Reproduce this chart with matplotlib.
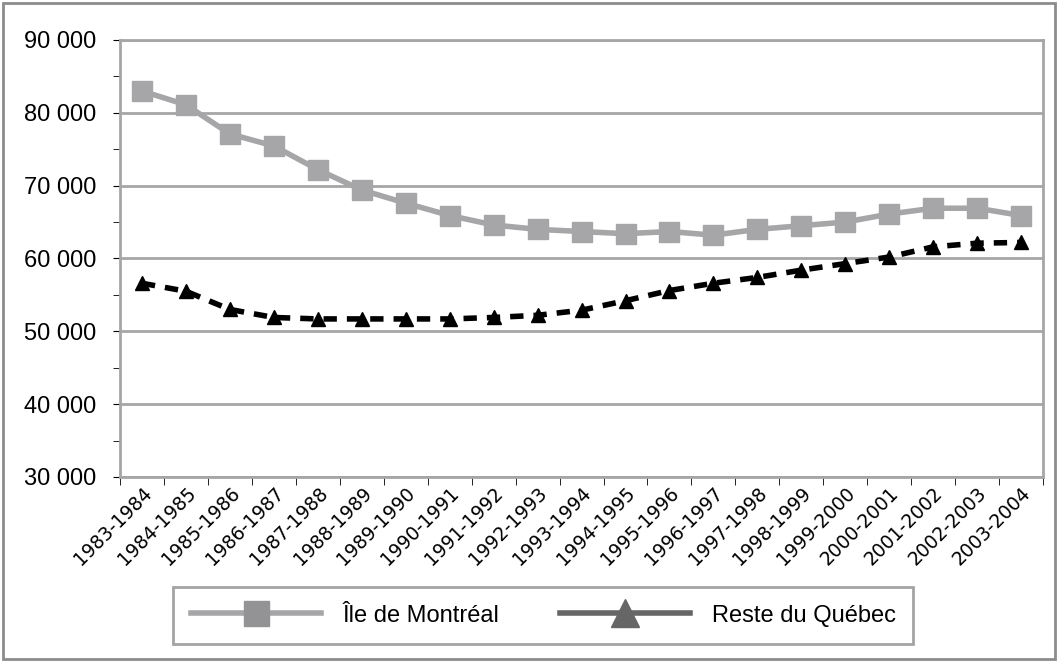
import matplotlib
matplotlib.use("Agg")
import matplotlib.pyplot as plt
import numpy as np
from matplotlib.lines import Line2D
from matplotlib.patches import Rectangle
from matplotlib.ticker import FuncFormatter, MultipleLocator

years = ["1983-1984", "1984-1985", "1985-1986", "1986-1987", "1987-1988",
         "1988-1989", "1989-1990", "1990-1991", "1991-1992", "1992-1993",
         "1993-1994", "1994-1995", "1995-1996", "1996-1997", "1997-1998",
         "1998-1999", "1999-2000", "2000-2001", "2001-2002", "2002-2003",
         "2003-2004"]
montreal = [83000, 81100, 77100, 75450, 72200, 69400, 67600, 65900, 64600, 64000,
            63700, 63400, 63700, 63200, 64000, 64500, 65000, 66100, 66900, 66900,
            65900]
reste = [56600, 55500, 53000, 51900, 51700, 51700, 51700, 51700, 51900, 52200,
         52900, 54200, 55600, 56600, 57400, 58400, 59300, 60200, 61600, 62100,
         62200]
series_names = ["Île de Montréal", "Reste du Québec"]

narrow = ["Liberation Sans", "DejaVu Sans"]
grid_col = "#a6a6a6"

fig = plt.figure(figsize=(10.59, 6.62), dpi=100)
ax = fig.add_axes([0.1133, 0.2795, 0.8717, 0.6601])

x = np.arange(len(years))
ax.plot(x, montreal, color="#a6a6a8", lw=4, marker="s", ms=15, zorder=3)
ax.plot(x, reste, color="black", lw=4, ls=(0, (2.4, 1.8)), marker="^", ms=10, zorder=3)

ax.set_xlim(-0.5, len(years) - 0.5)
ax.set_ylim(30000, 90000)
ax.yaxis.set_major_locator(MultipleLocator(10000))
ax.yaxis.set_minor_locator(MultipleLocator(5000))
ax.yaxis.set_major_formatter(FuncFormatter(lambda v, p: f"{int(v):,}".replace(",", " ")))
ax.grid(axis="y", color=grid_col, lw=2)
ax.set_axisbelow(True)

ax.set_xticks(x)
ax.set_xticklabels(years, rotation=45, ha="right", rotation_mode="anchor", fontsize=13.5)
ax.set_xticks(np.arange(len(years) + 1) - 0.5, minor=True)
ax.tick_params(axis="x", which="major", length=0, pad=5)
ax.tick_params(axis="x", which="minor", length=6, color="black", direction="out")
ax.tick_params(axis="y", which="both", length=5, color="black", labelsize=17, pad=12)
for lbl in ax.get_yticklabels():
    lbl.set_family(narrow)

for s in ax.spines.values():
    s.set_color(grid_col)
    s.set_linewidth(2)

handles = [
    Line2D([], [], color="#a6a6a8", lw=4, marker="s", ms=18, mfc="#939395", mec="#939395"),
    Line2D([], [], color="#666666", lw=4, marker="^", ms=20, mfc="#666666", mec="#666666"),
]
leg = fig.legend(handles, series_names, loc="center", bbox_to_anchor=(0.513, 0.07),
                 ncol=2, frameon=True, fancybox=False, handlelength=5.5,
                 columnspacing=2.6, borderpad=0.75, handletextpad=0.9,
                 prop={"family": narrow, "size": 17})
leg.get_frame().set_edgecolor("#8c8c8c")
leg.get_frame().set_linewidth(2)

fig.patches.append(Rectangle((0.003, 0.005), 0.993, 0.99, transform=fig.transFigure,
                             fill=False, edgecolor="#8c8c8c", lw=2))

fig.savefig("out.png", dpi=100)
